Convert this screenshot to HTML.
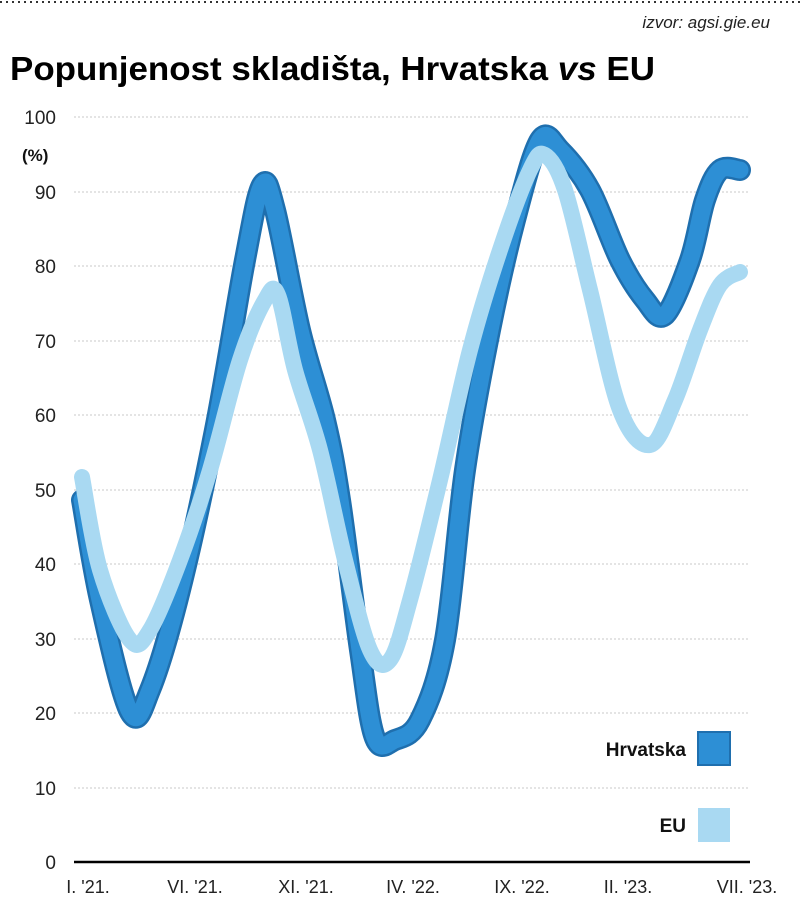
<!DOCTYPE html>
<html><head><meta charset="utf-8"><style>
body{margin:0;background:#fff;width:800px;height:904px;overflow:hidden;font-family:"Liberation Sans",sans-serif;}
</style></head><body>
<svg width="800" height="904" xmlns="http://www.w3.org/2000/svg" font-family="Liberation Sans, sans-serif">
<line x1="0" y1="2" x2="800" y2="2" stroke="#333" stroke-width="2" stroke-dasharray="2,4"/>
<text x="770" y="28" font-size="17" font-style="italic" text-anchor="end" fill="#222">izvor: agsi.gie.eu</text>
<text x="10" y="80" font-size="33" font-weight="bold" fill="#000" textLength="645" lengthAdjust="spacingAndGlyphs">Popunjenost skladišta, Hrvatska <tspan font-style="italic">vs</tspan> EU</text>
<g stroke="#c8c8c8" stroke-width="1" stroke-dasharray="2,2">
<line x1="74" x2="750" y1="117" y2="117"/><line x1="74" x2="750" y1="192" y2="192"/><line x1="74" x2="750" y1="266" y2="266"/><line x1="74" x2="750" y1="341" y2="341"/><line x1="74" x2="750" y1="415" y2="415"/><line x1="74" x2="750" y1="490" y2="490"/><line x1="74" x2="750" y1="564" y2="564"/><line x1="74" x2="750" y1="639" y2="639"/><line x1="74" x2="750" y1="713" y2="713"/><line x1="74" x2="750" y1="788" y2="788"/>
</g>
<line x1="74" x2="750" y1="862" y2="862" stroke="#000" stroke-width="2.5"/>
<g font-size="19" fill="#222" text-anchor="end">
<text x="56" y="124">100</text><text x="56" y="199">90</text><text x="56" y="273">80</text><text x="56" y="348">70</text><text x="56" y="422">60</text><text x="56" y="497">50</text><text x="56" y="571">40</text><text x="56" y="646">30</text><text x="56" y="720">20</text><text x="56" y="795">10</text><text x="56" y="869">0</text>
</g>
<text x="22" y="161" font-size="17" font-weight="bold" fill="#111">(%)</text>
<g font-size="18" fill="#222" text-anchor="middle">
<text x="88" y="893">I. '21.</text><text x="195" y="893">VI. '21.</text><text x="306" y="893">XI. '21.</text><text x="413" y="893">IV. '22.</text><text x="522" y="893">IX. '22.</text><text x="628" y="893">II. '23.</text><text x="747" y="893">VII. '23.</text>
</g>
<path id="hr2" d="" fill="none" stroke="#1f6fae" stroke-width="22" stroke-linecap="round" stroke-linejoin="round"/>
<path id="hr" d="" fill="none" stroke="#2d8fd5" stroke-width="17" stroke-linecap="round" stroke-linejoin="round"/>
<path id="eu" d="" fill="none" stroke="#a9d9f2" stroke-width="16" stroke-linecap="round" stroke-linejoin="round"/>
<text x="686" y="756" font-size="19" font-weight="bold" text-anchor="end" fill="#111">Hrvatska</text>
<rect x="698" y="732" width="32" height="33" fill="#2d8fd5" stroke="#1f6fae" stroke-width="2"/>
<text x="686" y="832" font-size="19" font-weight="bold" text-anchor="end" fill="#111">EU</text>
<rect x="698" y="808" width="32" height="34" fill="#a9d9f2"/>
</svg>
<script>
function cr(p){let d="M"+p[0][0]+","+p[0][1];for(let i=0;i<p.length-1;i++){const a=p[i-1]||p[i],b=p[i],c=p[i+1],e=p[i+2]||c;d+=" C"+(b[0]+(c[0]-a[0])/6)+","+(b[1]+(c[1]-a[1])/6)+" "+(c[0]-(e[0]-b[0])/6)+","+(c[1]-(e[1]-b[1])/6)+" "+c[0]+","+c[1];}return d;}
const H=[[82,500],[100,600],[130,712],[150,690],[180,590],[215,430],[245,260],[262,185],[275,210],[300,330],[325,420],[340,500],[360,650],[375,738],[395,740],[420,720],[445,640],[465,470],[490,330],[515,220],[540,140],[560,150],[590,190],[620,260],[645,300],[665,315],[690,260],[705,200],[720,170],[740,170]];
const E=[[82,477],[100,570],[130,640],[150,630],[180,560],[210,470],[240,360],[265,300],[278,295],[295,370],[320,450],[345,560],[370,650],[390,660],[410,600],[440,480],[470,350],[500,250],[530,170],[545,155],[565,190],[590,290],[620,410],[650,445],[675,400],[700,330],[720,285],[740,272]];
document.getElementById("hr").setAttribute("d",cr(H));
document.getElementById("hr2").setAttribute("d",cr(H));
document.getElementById("eu").setAttribute("d",cr(E));
</script>
</body></html>
